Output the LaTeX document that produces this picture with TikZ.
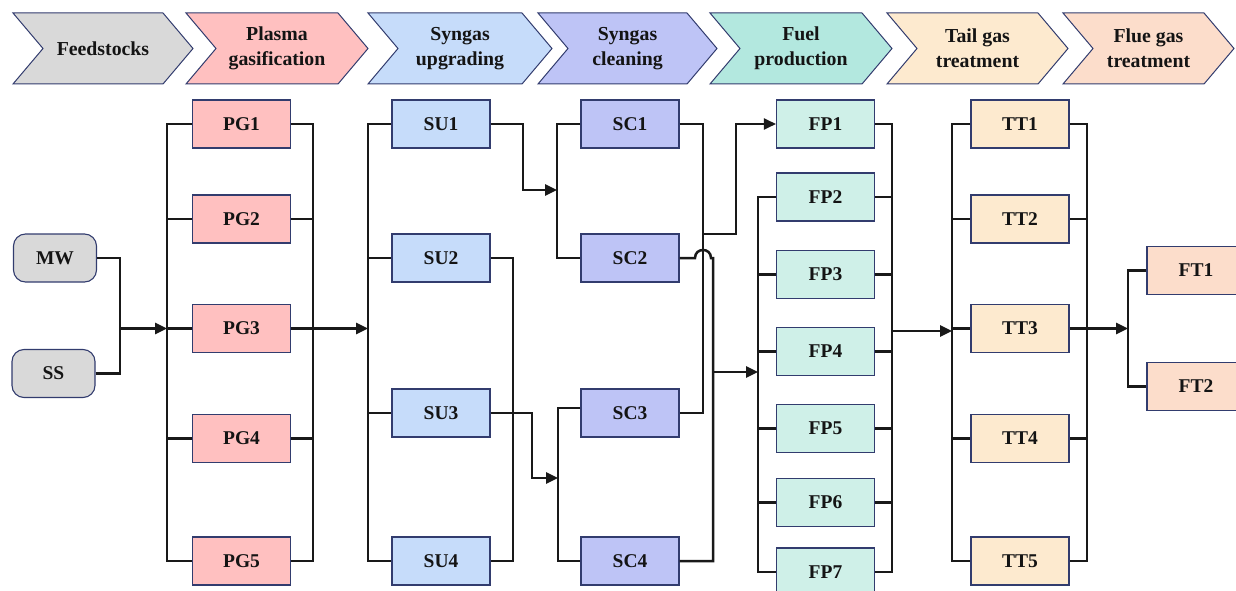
\documentclass[tikz,border=0pt]{standalone}
\usepackage{fontspec}
\setmainfont{Liberation Serif}
\usetikzlibrary{arrows.meta}
\definecolor{bordc}{HTML}{323C6E}
\definecolor{feedc}{HTML}{D9D9D9}
\definecolor{pgc}{HTML}{FFC0C0}
\definecolor{suc}{HTML}{C6DCFA}
\definecolor{scc}{HTML}{BEC4F6}
\definecolor{fpch}{HTML}{B3E8DF}
\definecolor{fpc}{HTML}{CFF0E8}
\definecolor{ttc}{HTML}{FDEACF}
\definecolor{ftc}{HTML}{FCDDCB}
\definecolor{txtc}{HTML}{141414}
\newcommand\chevshape[3]{%
  \draw[draw=bordc, line width=1pt, fill=#3] (#1,13) -- ({#2-30},13) -- (#2,48.5) -- ({#2-30},84) -- (#1,84) -- ({#1+30},48.5) -- cycle;}
\begin{document}
\begin{tikzpicture}[x=1pt,y=-1pt,
  box/.style={draw=bordc, line width=1.1pt, minimum width=98pt, minimum height=48pt, inner sep=0pt, text=txtc, font=\fontsize{19.5}{22}\selectfont\bfseries},
  feedbox/.style={box, fill=feedc, rounded corners=12pt, minimum width=83pt},
  conn/.style={line width=2.5pt, draw=black!90},
  arr/.style={conn, -{Triangle[length=12pt,width=11pt]}},
  chevtxt/.style={align=center, text=txtc, font=\fontsize{19.8}{25}\selectfont\bfseries}]
\useasboundingbox (0,0) rectangle (1236,591);
\clip (0,0) rectangle (1236,591);
% header chevrons
\chevshape{13}{193}{feedc}
\chevshape{186}{368}{pgc}
\chevshape{368}{552}{suc}
\chevshape{538}{717}{scc}
\chevshape{710}{892}{fpch}
\chevshape{887}{1068}{ttc}
\chevshape{1063}{1234}{ftc}
\node[chevtxt] (h1) at (103,48.5) {Feedstocks};
\node[chevtxt] (h2) at (277,48.5) {Plasma\\gasification};
\node[chevtxt] (h3) at (460,48.5) {Syngas\\upgrading};
\node[chevtxt] (h4) at (627.5,48.5) {Syngas\\cleaning};
\node[chevtxt] (h5) at (801,48.5) {Fuel\\production};
\node[chevtxt] (h6) at (977.5,48.5) {Tail gas\\treatment};
\node[chevtxt] (h7) at (1148.5,48.5) {Flue gas\\treatment};
% feedstocks
\node[feedbox] (MW) at (55,258) {MW};
\node[feedbox] (SS) at (53.5,373.5) {SS};
% boxes
\foreach \i/\y in {1/124,2/219,3/328.5,4/438.5,5/561}{
  \node[box, fill=pgc] (PG\i) at (241.5,\y) {PG\i};
  \node[box, fill=ttc] (TT\i) at (1020,\y) {TT\i};}
\foreach \i/\y in {1/124,2/258,3/413,4/561}{
  \node[box, fill=suc] (SU\i) at (441,\y) {SU\i};
  \node[box, fill=scc] (SC\i) at (630,\y) {SC\i};}
\foreach \i/\y in {1/124,2/197,3/274.5,4/351.5,5/428.5,6/502.5,7/572}{
  \node[box, fill=fpc] (FP\i) at (825.5,\y) {FP\i};}
\node[box, fill=ftc] (FT1) at (1196,270.5) {FT1};
\node[box, fill=ftc] (FT2) at (1196,386.5) {FT2};
% bus coordinates
\coordinate (j0) at (120,328.5);
\coordinate (pgL) at (167,0);
\coordinate (pgR) at (313,0);
\coordinate (suL) at (368,0);
\coordinate (suR) at (513,0);
\coordinate (k1) at (523,190);
\coordinate (scL) at (557,0);
\coordinate (k2) at (532,478);
\coordinate (scL2) at (558,0);
\coordinate (scR1) at (703,0);
\coordinate (k3) at (703,234);
\coordinate (k4) at (736,234);
\coordinate (scR2) at (713,0);
\coordinate (k5) at (713,372);
\coordinate (fpL) at (758,0);
\coordinate (fpR) at (892,0);
\coordinate (k6) at (892,331);
\coordinate (ttL) at (952,0);
\coordinate (ttR) at (1087,0);
\coordinate (ftL) at (1128,0);
% feed to PG
\draw[conn] (MW.east) -| (j0);
\draw[conn] (SS.east) -| (j0);
\draw[arr] (j0) -- (pgL |- j0);
% PG buses
\draw[conn] (PG1.west) -| (pgL |- PG5.west) -- (PG5.west);
\draw[conn] (PG1.east) -| (pgR |- PG5.east) -- (PG5.east);
\foreach \i in {2,3,4}{
  \draw[conn] (pgL |- PG\i.west) -- (PG\i.west);
  \draw[conn] (pgR |- PG\i.east) -- (PG\i.east);}
\draw[arr] (PG3.east) -- (suL |- PG3.east);
% SU buses
\draw[conn] (SU1.west) -| (suL |- SU4.west) -- (SU4.west);
\foreach \i in {2,3}{\draw[conn] (suL |- SU\i.west) -- (SU\i.west);}
\draw[conn] (SU2.east) -| (suR |- SU4.east) -- (SU4.east);
\draw[arr] (SU1.east) -| (k1) -- (scL |- k1);
\draw[arr] (SU3.east) -| (k2) -- (scL2 |- k2);
% SC buses
\draw[conn] (SC1.west) -| (scL |- SC2.west) -- (SC2.west);
\draw[conn] ([yshift=5pt]SC3.west) -| (scL2 |- SC4.west) -- (SC4.west);
\draw[conn] (SC1.east) -| (scR1 |- SC3.east) -- (SC3.east);
\draw[conn] (SC2.east) -- (695,258) .. controls (695,247.3) and (711,247.3) .. (711,258) -- (scR2 |- SC2.east) -- (scR2 |- SC4.east) -- (SC4.east);
\draw[arr] (k3) -- (k4) |- (FP1.west);
\draw[arr] (k5) -- (fpL |- k5);
% FP buses
\draw[conn] (FP2.west) -| (fpL |- FP7.west) -- (FP7.west);
\foreach \i in {3,4,5,6}{\draw[conn] (fpL |- FP\i.west) -- (FP\i.west);}
\draw[conn] (FP1.east) -| (fpR |- FP7.east) -- (FP7.east);
\foreach \i in {2,3,4,5,6}{\draw[conn] (fpR |- FP\i.east) -- (FP\i.east);}
\draw[arr] (k6) -- (ttL |- k6);
% TT buses
\draw[conn] (TT1.west) -| (ttL |- TT5.west) -- (TT5.west);
\draw[conn] (TT1.east) -| (ttR |- TT5.east) -- (TT5.east);
\foreach \i in {2,3,4}{
  \draw[conn] (ttL |- TT\i.west) -- (TT\i.west);
  \draw[conn] (ttR |- TT\i.east) -- (TT\i.east);}
\draw[arr] (TT3.east) -- (ftL |- TT3.east);
% FT bus
\draw[conn] (FT1.west) -| (ftL |- FT2.west) -- (FT2.west);
\end{tikzpicture}
\end{document}
